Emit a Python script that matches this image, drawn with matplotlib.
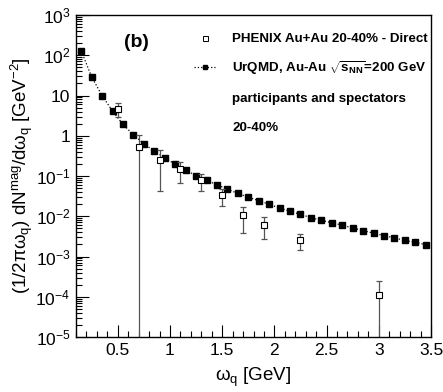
import numpy as np
import matplotlib
matplotlib.use("Agg")
import matplotlib.pyplot as plt
from matplotlib.lines import Line2D
from matplotlib.ticker import MultipleLocator, LogLocator, NullFormatter, FuncFormatter

plt.rcParams['font.family'] = ['Liberation Sans', 'DejaVu Sans']
plt.rcParams['mathtext.fontset'] = 'custom'
plt.rcParams['mathtext.rm'] = 'Liberation Sans'
plt.rcParams['mathtext.it'] = 'Liberation Sans'
plt.rcParams['mathtext.bf'] = 'Liberation Sans:bold'

# UrQMD model (black squares)
urqmd_x = [0.15, 0.25, 0.35, 0.45, 0.55, 0.65, 0.75, 0.85, 0.95, 1.05, 1.15, 1.25,
           1.35, 1.45, 1.55, 1.65, 1.75, 1.85, 1.95, 2.05, 2.15, 2.25, 2.35, 2.45,
           2.55, 2.65, 2.75, 2.85, 2.95, 3.05, 3.15, 3.25, 3.35, 3.45]
urqmd_y = [128, 29, 9.9, 4.1, 1.92, 1.05, 0.635, 0.41, 0.285, 0.195, 0.141, 0.102,
           0.078, 0.061, 0.047, 0.037, 0.0295, 0.0244, 0.0198, 0.016, 0.0133, 0.0112,
           0.0092, 0.0079, 0.0069, 0.006, 0.0051, 0.0044, 0.0038, 0.0033, 0.0029,
           0.0025, 0.00225, 0.00196]

# PHENIX direct photons (open squares)
phen_x = [0.5, 0.7, 0.9, 1.1, 1.3, 1.5, 1.7, 1.9, 2.25, 3.0]
phen_y = [4.7, 0.54, 0.25, 0.147, 0.078, 0.033, 0.011, 0.0062, 0.0026, 1.1e-4]
phen_hi = [6.6, 1.05, 0.44, 0.226, 0.110, 0.047, 0.0173, 0.0098, 0.0037, 2.4e-4]
phen_lo = [2.87, 1e-7, 0.042, 0.068, 0.042, 0.018, 0.0038, 0.0027, 0.00145, 1e-7]

x_ticks = [0.5, 1.0, 1.5, 2.0, 2.5, 3.0, 3.5]
x_ticklabels = ['0.5', '1', '1.5', '2', '2.5', '3', '3.5']

fig = plt.figure(figsize=(4.43, 3.92), dpi=100)
ax = fig.add_axes([76/443, 55/392, 355/443, 322/392])

ax.plot(urqmd_x, urqmd_y, linestyle=':', color='black', linewidth=0.9,
        marker='s', markersize=4.0, markerfacecolor='black', markeredgecolor='black')

py = np.array(phen_y)
yerr = [py - np.array(phen_lo), np.array(phen_hi) - py]
ax.errorbar(phen_x, phen_y, yerr=yerr, fmt='none', ecolor='#555555',
            elinewidth=0.9, capsize=2.0, capthick=0.9)
ax.plot(phen_x, phen_y, linestyle='none', marker='s', markersize=4.4,
        markerfacecolor='white', markeredgecolor='black', markeredgewidth=0.8)

ax.set_yscale('log')
ax.set_xlim(0.1, 3.5)
ax.set_ylim(1e-5, 1e3)

ax.set_xticks(x_ticks)
ax.set_xticklabels(x_ticklabels)
ax.xaxis.set_minor_locator(MultipleLocator(0.1))
ax.yaxis.set_major_locator(LogLocator(base=10, numticks=20))
ax.yaxis.set_minor_locator(LogLocator(base=10, subs=np.arange(2, 10), numticks=20))
ax.yaxis.set_minor_formatter(NullFormatter())

def yfmt(v, pos):
    e = int(round(np.log10(v)))
    if e == 0:
        return '1'
    if e == 1:
        return '10'
    return r'$10^{%d}$' % e
ax.yaxis.set_major_formatter(FuncFormatter(yfmt))

ax.tick_params(which='both', direction='in', top=False, right=False, labelsize=12.5, pad=4)
ax.tick_params(which='major', length=9, width=0.8)
ax.tick_params(which='minor', length=4.5, width=0.8)
for s in ax.spines.values():
    s.set_linewidth(1.0)

ax.set_xlabel(r'$\omega_q$ [GeV]', fontsize=13.5, labelpad=6)
ax.set_ylabel(r'(1/2$\pi\omega_q$) dN$^{mag}$/d$\omega_q$ [GeV$^{-2}$]', fontsize=13.5, labelpad=0)

ax.text(0.17, 0.915, '(b)', transform=ax.transAxes, fontsize=14, fontweight='bold',
        ha='center', va='center')

legprop = {'weight': 'bold', 'size': 9.6}
h1 = [Line2D([], [], linestyle='none', marker='s', markersize=3.6,
             markerfacecolor='white', markeredgecolor='black', markeredgewidth=0.7)]
leg1 = ax.legend(h1, ['PHENIX Au+Au 20-40% - Direct'], loc='center left',
                 bbox_to_anchor=(0.333, 0.925), frameon=False, prop=legprop,
                 handlelength=1.55, handletextpad=1.3, borderaxespad=0.0, borderpad=0.0)
ax.add_artist(leg1)

h2 = [Line2D([], [], linestyle=':', color='black', linewidth=0.9, marker='s',
             markersize=3.4, markerfacecolor='black'),
      Line2D([], [], linestyle='none'),
      Line2D([], [], linestyle='none')]
labels2 = [r'UrQMD, Au-Au $\sqrt{\mathbf{s}_{\mathbf{NN}}}$=200 GeV',
           'participants and spectators',
           '20-40%']
leg2 = ax.legend(h2, labels2, loc='upper left', bbox_to_anchor=(0.333, 0.862),
                 frameon=False, prop=legprop, handlelength=1.55, handletextpad=1.3,
                 labelspacing=1.2, borderaxespad=0.0, borderpad=0.0)

fig.savefig('out.png', dpi=100)
